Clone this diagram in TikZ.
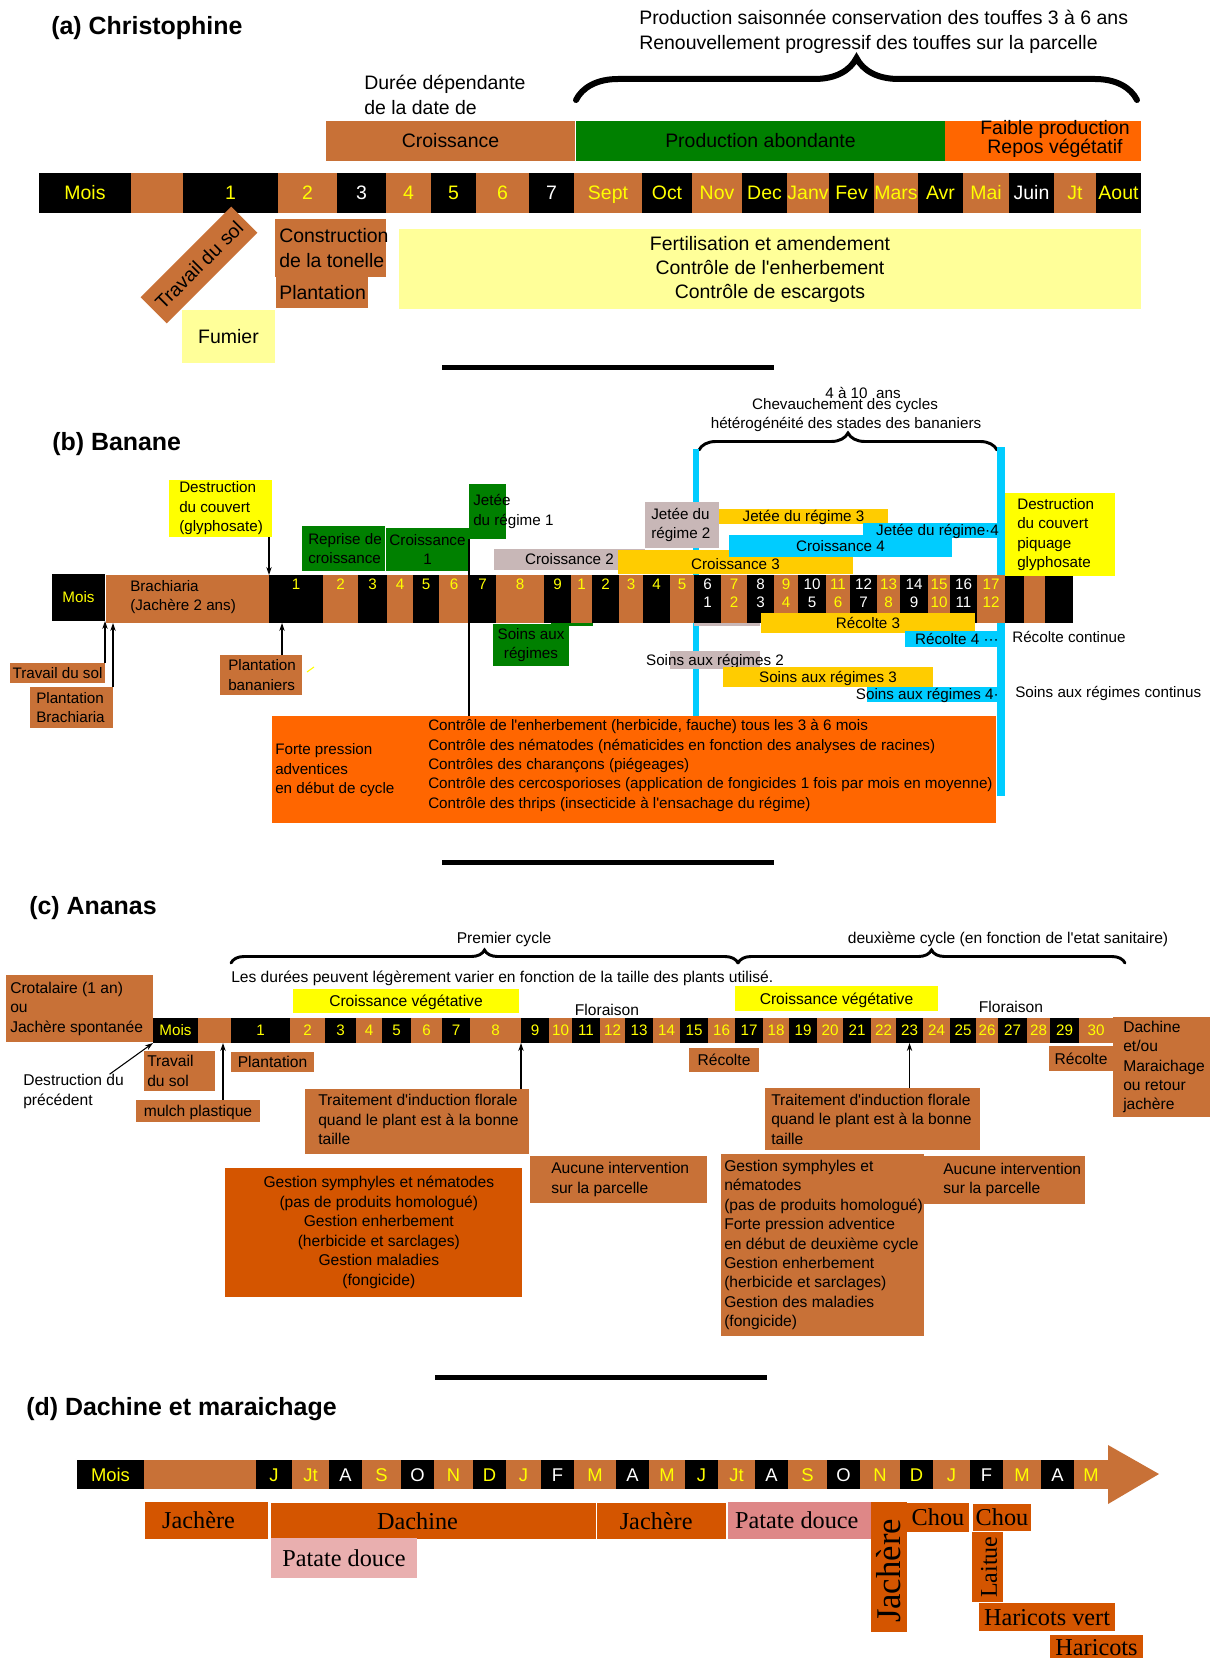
\documentclass[tikz,border=0pt]{standalone}
\usepackage{fontspec}
\setmainfont{Liberation Sans}
\newfontfamily\tmsfont{Liberation Serif}
\usepackage{xcolor}
\usetikzlibrary{arrows.meta,decorations.pathreplacing}
\definecolor{brn}{HTML}{C87137}
\definecolor{grn}{HTML}{008000}
\definecolor{org}{HTML}{FF6600}
\definecolor{dorg}{HTML}{D45500}
\definecolor{lyel}{HTML}{FFFF99}
\definecolor{yel}{HTML}{FFFF00}
\definecolor{gold}{HTML}{FFCC00}
\definecolor{sky}{HTML}{00CCFF}
\definecolor{gry}{HTML}{C8B7B7}
\definecolor{pka}{HTML}{E9AFAF}
\definecolor{pkb}{HTML}{DE8787}
\newcommand\fsa{\fontsize{14.6}{18.75}\selectfont}
\newcommand\fsb{\fontsize{11.4}{14.6}\selectfont}
\newcommand\fsc{\fontsize{11.7}{14.6}\selectfont}
\newcommand\fsm{\fontsize{11.4}{13}\selectfont}
\newcommand\fsn{\fontsize{13.8}{15}\selectfont}
\newcommand\fsd{\tmsfont\fontsize{18.2}{20}\selectfont}
\newcommand\fst{\bfseries\fontsize{18.7}{22}\selectfont}
\newcommand\apo{\textquotesingle}
\tikzset{
  bx/.style n args={3}{fill=#1, minimum width=(#2)*0.75pt, minimum height=(#3)*0.75pt,
    inner sep=0pt, outer sep=0pt, anchor=north west},
  tx/.style={inner sep=0pt, align=left},
  one/.style={inner sep=0pt, text height=#1, text depth=0pt},
  ta/.style={one=10.5pt, font=\fsa},
  tb/.style={one=8.2pt, font=\fsb},
  tc/.style={one=8.4pt, font=\fsc},
  tm/.style={one=8.2pt, font=\fsm},
  tn/.style={one=9.9pt, font=\fsn},
  td/.style={one=12pt, font=\fsd},
  brc/.style={decorate, decoration={brace, amplitude=#1}, line cap=round},
  sepbar/.style={line width=3.75pt},
  con/.style={->, line width=0.8pt},
}

\begin{document}
\begin{tikzpicture}[x=0.75pt,y=-0.75pt,>={Stealth[length=6pt,width=4pt]}]
  \path[fill=white,use as bounding box] (0,0) rectangle (1210,1658);

  \node[tx,font=\fst,anchor=base west] (ttla) at (51,35) {(a) Christophine};
  \node[tx,font=\fsa,anchor=west] (prod) at (639,32) {Production saisonnée conservation des touffes 3 à 6 ans\\Renouvellement progressif des touffes sur la parcelle};
  \draw[brc=31.5pt,line width=4.5pt] (576,100) -- (1137,100);
  \node[tx,font=\fsa,anchor=west] (dur) at (364,95) {Durée dépendante\\de la date de};
  \node[bx={brn}{249}{40}] (cro) at (326,121) {};
  \node[bx={grn}{369}{40}] (pab) at (576,121) {};
  \node[bx={org}{196}{40}] (fai) at (945,121) {};
  \node[ta] (tcro) at (cro.center) {Croissance};
  \node[ta] (tpab) at (pab.center) {Production abondante};
  \node[tx,align=center,font=\fontsize{14.6}{13.5}\selectfont] (tfai) at ([xshift=9pt,yshift=1.5pt]fai.center) {Faible production\\Repos végétatif};
  \foreach \xa/\xb/\la/\cf/\ct [count=\i] in {39/131/Mois/black/yel,131/183//brn/yel,183/278/1/black/yel,278/337/2/brn/yel,337/386/3/black/white,386/431/4/brn/yel,431/476/5/black/yel,476/529/6/brn/yel,529/574/7/black/white,574/642/Sept/brn/yel,642/692/Oct/black/yel,692/742/Nov/brn/yel,742/787/Dec/black/yel,787/829/Janv/brn/yel,829/874/Fev/black/yel,874/918/Mars/brn/yel,918/963/Avr/black/yel,963/1009/Mai/brn/yel,1009/1054/Juin/black/white,1054/1096/Jt/brn/yel,1096/1141/Aout/black/yel}{
    \node[bx={\cf}{\xb-\xa}{40}] (a\i) at (\xa,173) {};
    \node[ta,text=\ct] (at\i) at (a\i.center) {\la};
  }
  \node[bx={brn}{128}{37},anchor=center,rotate=45] (tsa) at (199,265) {};
  \node[ta,rotate=45] (ttsa) at (tsa.center) {Travail du sol};
  \node[bx={lyel}{93}{53}] (fum) at (182,310) {};
  \node[ta] (tfum) at (fum.center) {Fumier};
  \node[bx={brn}{111}{58}] (con) at (275,219) {};
  \node[bx={brn}{92}{31}] (pla) at (276,277) {};
  \node[tx,font=\fsa,anchor=west] (tcon) at ([xshift=3pt]con.west) {Construction\\de la tonelle};
  \node[ta,anchor=west] (tpla) at ([xshift=2.25pt]pla.west) {Plantation};
  \node[bx={lyel}{742}{80}] (fer) at (399,229) {};
  \node[tx,align=center,font=\fontsize{14.6}{18}\selectfont] (tfer) at (fer.center) {Fertilisation et amendement\\Contrôle de l\apo enherbement\\Contrôle de escargots};
  \draw[sepbar] (442,367) -- (774,367);

  \node[tx,font=\fst,anchor=base west] (ttlb) at (52,450) {(b) Banane};
  \node[tb] (ans) at (863,393) {4 à 10\ \ ans};
  \node[tb] (chv) at (845,404) {Chevauchement des cycles};
  \node[tb] (het) at (846,423) {hétérogénéité des stades des bananiers};
  \draw[brc=12.75pt,line width=2.2pt] (699,450) -- (997,450);
  \fill[sky] (693,449) rectangle (699,716);
  \fill[sky] (997,447) rectangle (1005,796);
  \node[bx={black}{53}{47}] (bmois) at (52,574) {};
  \node[tb,text=yel] (tbmois) at (bmois.center) {Mois};
  \node[bx={brn}{163}{48}] (bbra) at (106,575) {};
  \node[tx,font=\fsb,anchor=west] (tbra) at (130,597) {Brachiaria\\(Jachère 2 ans)};
  \node[bx={yel}{103}{57}] (dcv) at (169,480) {};
  \node[tx,font=\fsb,anchor=west] (tdcv) at ([xshift=7.5pt]dcv.west) {Destruction\\du couvert\\(glyphosate)};
  \node[bx={grn}{83}{45}] (rep) at (302,526) {};
  \node[tx,font=\fsb,anchor=west] (trep) at ([xshift=4.5pt]rep.west) {Reprise de\\croissance};
  \node[bx={grn}{83}{43}] (cr1) at (386,528) {};
  \node[tx,align=center,font=\fsb] (tcr1) at (cr1.center) {Croissance\\1};
  \node[bx={grn}{37}{55}] (jt1) at (469,484) {};
  \node[tx,font=\fsb,anchor=west] (tjt1) at ([xshift=3pt]jt1.west) {Jetée\\du régime 1};
  \node[bx={gry}{151}{21}] (cr2) at (494,549) {};
  \node[tb] (tcr2) at (cr2.center) {Croissance 2};
  \node[bx={gold}{235}{24}] (cr3) at (618,550) {};
  \node[bx={gry}{74}{46}] (jt2) at (645,502) {};
  \node[tx,font=\fsb,anchor=west] (tjt2) at ([xshift=4.5pt]jt2.west) {Jetée du\\régime 2};
  \node[bx={gold}{169}{15}] (jt3) at (719,509) {};
  \node[tb] (tjt3) at (jt3.center) {Jetée du régime 3};
  \node[bx={sky}{134}{15}] (jt4) at (863,523) {};
  \node[tb,anchor=east] (tjt4) at ([xshift=1.5pt]jt4.east) {Jetée du régime·4};
  \node[bx={sky}{223}{22}] (cr4) at (729,535) {};
  \node[tb] (tcr3) at ([yshift=-1.5pt]cr3.center) {Croissance 3};
  \node[tb] (tcr4) at (cr4.center) {Croissance 4};
  \fill[grn] (551,622) rectangle (593,626);
  \fill[gry] (694,622) rectangle (760,626);
  \foreach \xa/\xb/\la/\lb/\cf/\ct [count=\i] in {269/323/1//black/yel,323/358/2//brn/yel,358/387/3//black/yel,387/413/4//brn/yel,413/439/5//black/yel,439/469/6//brn/yel,469/496/7//black/yel,496/544/8//brn/yel,544/571/9//black/yel,571/592/1//brn/yel,592/619/2//black/yel,619/643/3//brn/yel,643/670/4//black/yel,670/694/5//brn/yel,694/721/6/1/black/white,721/747/7/2/brn/yel,747/774/8/3/black/white,774/798/9/4/brn/yel,798/826/10/5/black/white,826/850/11/6/brn/yel,850/877/12/7/black/white,877/900/13/8/brn/yel,900/928/14/9/black/white,928/950/15/10/brn/yel,950/977/16/11/black/white,977/1005/17/12/brn/yel,1005/1024///black/yel,1024/1045///brn/yel,1045/1073///black/yel}{
    \node[bx={\cf}{\xb-\xa}{48}] (b\i) at (\xa,575) {};
    \node[tm,text=\ct] (bt\i) at ({(\xa+\xb)/2},584) {\la};
    \node[tm,text=\ct] (bu\i) at ({(\xa+\xb)/2},602) {\lb};
  }
  \draw[con] (b1.north west |- dcv.south) -- (b1.north west);
  \node[bx={grn}{76}{42}] (srg) at (493,624) {};
  \node[tx,align=center,font=\fsb] (tsrg) at (srg.center) {Soins aux\\régimes};
  \node[bx={gold}{214}{20}] (rc3) at (761,613) {};
  \node[tb] (trc3) at (rc3.center) {Récolte 3};
  \node[bx={sky}{92}{16}] (rc4) at (905,631) {};
  \node[tb,anchor=east] (trc4) at ([xshift=1.5pt]rc4.east) {Récolte 4 ···};
  \node[tb,anchor=west] (rcc) at (1012,637) {Récolte continue};
  \node[bx={gry}{90}{18}] (sr2) at (670,651) {};
  \node[tb] (tsr2) at (sr2.center) {Soins aux régimes 2};
  \node[bx={gold}{210}{20}] (sr3) at (723,667) {};
  \node[tb] (tsr3) at (sr3.center) {Soins aux régimes 3};
  \node[bx={sky}{130}{15}] (sr4) at (867,687) {};
  \node[tb,anchor=east] (tsr4) at ([xshift=1.5pt]sr4.east) {Soins aux régimes 4·};
  \node[tb,anchor=west] (src) at (1015,692) {Soins aux régimes continus};
  \node[bx={yel}{110}{83}] (dpq) at (1005,493) {};
  \node[tx,font=\fsb,anchor=west] (tdpq) at ([xshift=9pt]dpq.west) {Destruction\\du couvert\\piquage\\glyphosate};
  \node[bx={brn}{95}{20}] (tsb) at (10,663) {};
  \node[tb] (ttsb) at (tsb.center) {Travail du sol};
  \draw[con] (tsb.north east) -- (bmois.south east);
  \node[bx={brn}{83}{41}] (pbr) at (30,687) {};
  \node[tx,font=\fsb,anchor=west] (tpbr) at ([xshift=4.5pt]pbr.west) {Plantation\\Brachiaria};
  \draw[con] (pbr.north east) -- (pbr.north east |- bbra.south);
  \node[bx={brn}{82}{40}] (pban) at (220,655) {};
  \node[tx,font=\fsb,anchor=west] (tpban) at ([xshift=6pt]pban.west) {Plantation\\bananiers};
  \draw[con] ([xshift=-15pt]pban.north east) -- ([xshift=-15pt]pban.north east |- b1.south);
  \draw[yel,line width=0.8pt] (307,672) -- (314,667);
  \node[bx={org}{724}{107}] (orb) at (272,716) {};
  \node[tx,font=\fsb,anchor=west] (tfp) at ([xshift=2.25pt,yshift=-0.75pt]orb.west) {Forte pression\\adventices\\en début de cycle};
  \node[tx,font=\fsb,anchor=west] (tct) at (428,765.5) {Contrôle de l\apo enherbement (herbicide, fauche) tous les 3 à 6 mois\\Contrôle des nématodes (nématicides en fonction des analyses de racines)\\Contrôles des charançons (piégeages)\\Contrôle des cercosporioses (application de fongicides 1 fois par mois en moyenne)\\Contrôle des thrips (insecticide à l\apo ensachage du régime)};
  \draw[line width=0.8pt] (jt1.south west) -- (jt1.south west |- orb.north);
  \draw[sepbar] (442,862) -- (774,862);

  \node[tx,font=\fst,anchor=base west] (ttlc) at (29,914) {(c) Ananas};
  \draw[brc=9.75pt,line width=2.2pt] (231,963) -- (738,963);
  \draw[brc=9.75pt,line width=2.2pt] (738,963) -- (1125,963);
  \node[tc] (pcy) at (504,938) {Premier cycle};
  \node[tc] (dcy) at (1008,938) {deuxième cycle (en fonction de l\apo etat sanitaire)};
  \node[tc,anchor=west] (ldu) at (231,977) {Les durées peuvent légèrement varier en fonction de la taille des plants utilisé.};
  \node[bx={yel}{226}{24}] (cv1) at (293,989) {};
  \node[tc] (tcv1) at (cv1.center) {Croissance végétative};
  \node[bx={yel}{203}{25}] (cv2) at (735,986) {};
  \node[tc] (tcv2) at (cv2.center) {Croissance végétative};
  \node[tc] (flo1) at (607,1010) {Floraison};
  \node[tc] (flo2) at (1011,1007) {Floraison};
  \node[bx={brn}{147}{67}] (crt) at (6,975) {};
  \node[tx,font=\fsc,anchor=west] (tcrt) at ([xshift=3pt]crt.west) {Crotalaire (1 an)\\ou\\Jachère spontanée};
  \foreach \xa/\xb/\la/\cf [count=\i from -1] in {153/198/Mois/black,198/231//brn,231/290/1/black,290/325/2/brn,325/356/3/black,356/382/4/brn,382/411/5/black,411/442/6/brn,442/470/7/black,470/521/8/brn,521/549/9/black,549/572/10/brn,572/600/11/black,600/625/12/brn,625/653/13/black,653/680/14/brn,680/708/15/black,708/735/16/brn,735/763/17/black,763/789/18/brn,789/817/19/black,817/843/20/brn,843/871/21/black,871/896/22/brn,896/923/23/black,923/950/24/brn,950/976/25/black,976/998/26/brn,998/1027/27/black,1027/1050/28/brn,1050/1079/29/black,1079/1113/30/brn}{
    \node[bx={\cf}{\xb-\xa}{25}] (c\i) at (\xa,1018) {};
    \node[tm,text=yel] (ct\i) at (c\i.center) {\la};
  }
  \node[tx,font=\fsc,anchor=west] (dpr) at (23,1091.5) {Destruction du\\précédent};
  \draw[con] ([xshift=27pt]dpr.north) -- (c-1.south west);
  \node[bx={brn}{71}{40}] (tsc) at (144,1051) {};
  \node[tx,font=\fsc,anchor=west] (ttsc) at ([xshift=2.25pt]tsc.west) {Travail\\du sol};
  \node[bx={brn}{124}{22}] (mul) at (136,1100) {};
  \node[tc] (tmul) at (mul.center) {mulch plastique};
  \draw[con] ([xshift=-27.75pt]mul.north east) -- ([xshift=-27.75pt]mul.north east |- c0.south);
  \node[bx={brn}{83}{20}] (plc) at (231,1052) {};
  \node[tc] (tplc) at (plc.center) {Plantation};
  \node[bx={brn}{224}{65}] (tr1) at (305,1089) {};
  \node[tx,font=\fsc,anchor=west] (ttr1) at ([xshift=9.75pt,yshift=1.5pt]tr1.west) {Traitement d\apo induction florale\\quand le plant est à la bonne\\taille};
  \draw[con] (c9.south west |- tr1.north) -- (c9.south west);
  \node[bx={brn}{70}{24}] (rca) at (689,1048) {};
  \node[tc] (trca) at (rca.center) {Récolte};
  \node[bx={brn}{215}{62}] (tr2) at (765,1088) {};
  \node[tx,font=\fsc,anchor=west] (ttr2) at ([xshift=4.5pt]tr2.west) {Traitement d\apo induction florale\\quand le plant est à la bonne\\taille};
  \draw[con] (c23.south |- tr2.north) -- (c23.south);
  \node[bx={brn}{64}{25}] (rcb) at (1049,1046) {};
  \node[tc] (trcb) at (rcb.center) {Récolte};
  \node[bx={brn}{97}{100}] (dch) at (1113,1017) {};
  \node[tx,font=\fsc,anchor=west] (tdch) at ([xshift=7.5pt]dch.west) {Dachine\\et/ou\\Maraichage\\ou retour\\jachère};
  \node[bx={dorg}{297}{129}] (gsl) at (225,1168) {};
  \node[tx,align=center,font=\fsc] (tgsl) at ([xshift=4pt]gsl.center) {Gestion symphyles et nématodes\\(pas de produits homologué)\\Gestion enherbement\\(herbicide et sarclages)\\Gestion maladies\\(fongicide)};
  \node[bx={brn}{177}{47}] (aua) at (530,1156) {};
  \node[tx,font=\fsc,anchor=west] (taua) at ([xshift=15.75pt]aua.west) {Aucune intervention\\sur la parcelle};
  \node[bx={brn}{203}{182}] (gsr) at (721,1154) {};
  \node[tx,font=\fsc,anchor=west] (tgsr) at ([xshift=2.25pt]gsr.west) {Gestion symphyles et\\nématodes\\(pas de produits homologué)\\Forte pression adventice\\en début de deuxième cycle\\Gestion enherbement\\(herbicide et sarclages)\\Gestion des maladies\\(fongicide)};
  \node[bx={brn}{161}{48}] (aub) at (924,1156) {};
  \node[tx,font=\fsc,anchor=west] (taub) at ([xshift=14.25pt]aub.west) {Aucune intervention\\sur la parcelle};
  \draw[sepbar] (435,1377) -- (767,1377);

  \node[tx,font=\fst,anchor=base west] (ttld) at (26,1415) {(d) Dachine et maraichage};
  \foreach \xa/\xb/\la/\cf/\ct [count=\i] in {77/144/Mois/black/yel,144/256//brn/yel,256/292/J/black/yel,292/329/Jt/brn/yel,329/362/A/black/white,362/401/S/brn/yel,401/434/O/black/white,434/473/N/brn/yel,473/506/D/black/yel,506/541/J/brn/yel,541/574/F/black/white,574/616/M/brn/yel,616/649/A/black/white,649/685/M/brn/yel,685/718/J/black/yel,718/755/Jt/brn/yel,755/788/A/black/white,788/827/S/brn/yel,827/860/O/black/white,860/900/N/brn/yel,900/933/D/black/yel,933/970/J/brn/yel,970/1003/F/black/white,1003/1041/M/brn/yel,1041/1074/A/black/white,1074/1108/M/brn/yel}{
    \node[bx={\cf}{\xb-\xa}{29}] (d\i) at (\xa,1460) {};
    \node[tn,text=\ct] (dt\i) at (d\i.center) {\la};
  }
  \fill[brn] (1108,1445) -- (1159,1474) -- (1108,1504) -- cycle;
  \node[bx={dorg}{123}{37}] (jaa) at (145,1502) {};
  \node[td] (tjaa) at ([xshift=-6pt]jaa.center) {Jachère};
  \node[bx={dorg}{325}{36}] (dac) at (271,1503) {};
  \node[td] (tdac) at ([xshift=-12pt]dac.center) {Dachine};
  \node[bx={dorg}{129}{36}] (jab) at (597,1503) {};
  \node[td] (tjab) at ([xshift=-4pt]jab.center) {Jachère};
  \node[bx={pka}{146}{40}] (pta) at (271,1538) {};
  \node[td] (tpta) at (pta.center) {Patate douce};
  \node[bx={pkb}{143}{37}] (ptb) at (728,1502) {};
  \node[td] (tptb) at ([xshift=-2pt]ptb.center) {Patate douce};
  \node[bx={dorg}{36}{130}] (jac) at (871,1502) {};
  \node[one=17pt,font=\tmsfont\fontsize{26}{28}\selectfont,rotate=90] (tjac) at ([yshift=-3pt]jac.center) {Jachère};
  \node[bx={dorg}{62}{29}] (cha) at (907,1503) {};
  \node[td] (tcha) at (cha.center) {Chou};
  \node[bx={dorg}{58}{27}] (chb) at (973,1504) {};
  \node[td] (tchb) at (chb.center) {Chou};
  \node[bx={dorg}{31}{70}] (lai) at (972,1532) {};
  \node[one=11.9pt,font=\tmsfont\fontsize{18}{20}\selectfont,rotate=90] (tlai) at ([xshift=1pt]lai.center) {Laitue};
  \node[bx={dorg}{136}{28}] (hav) at (979,1603) {};
  \node[td] (thav) at (hav.center) {Haricots vert};
  \node[bx={dorg}{93}{30}] (har) at (1050,1635) {};
  \node[td] (thar) at ([yshift=2.25pt]har.center) {Haricots};
\end{tikzpicture}
\end{document}
